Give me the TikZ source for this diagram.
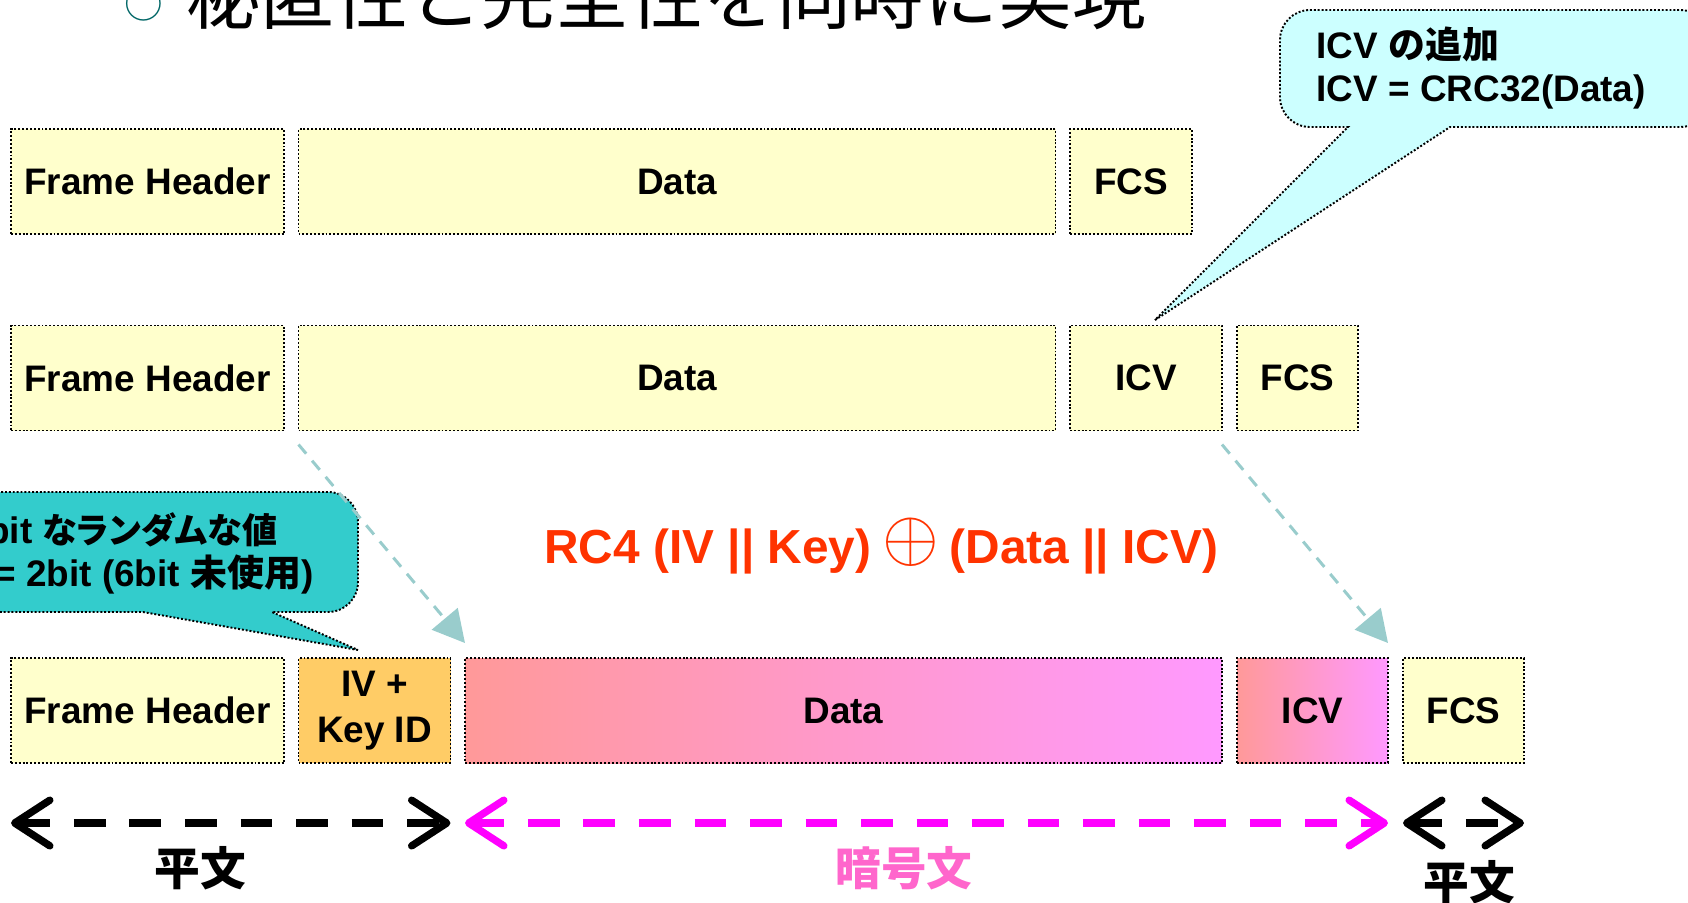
\documentclass[tikz,border=0pt]{standalone}
\usepackage{fontspec}
\setmainfont{Liberation Sans}
\newfontfamily\jpfont{Noto Sans CJK JP}
\newfontfamily\jppfont{Noto Sans CJK JP}[RawFeature=+palt]
\usetikzlibrary{positioning,arrows.meta}

\definecolor{boxyellow}{HTML}{FFFFCC}
\definecolor{ivorange}{HTML}{FFCC66}
\definecolor{encsalmon}{HTML}{FF9999}
\definecolor{encpink}{HTML}{FF99FF}
\definecolor{notecyan}{HTML}{CCFFFF}
\definecolor{noteteal}{HTML}{33CCCC}
\definecolor{hintteal}{HTML}{99CCCC}
\definecolor{rcred}{HTML}{FF3300}
\definecolor{encmagenta}{HTML}{FF00FF}
\definecolor{enclabel}{HTML}{FF66CC}
\definecolor{bulletteal}{HTML}{006666}

\begin{document}
\begin{tikzpicture}[
  field/.style={draw, line width=0.55pt, dash pattern=on 0.55pt off 0.55pt,
    fill=boxyellow, minimum height=1.05cm, inner sep=0pt, outer sep=0pt, align=center,
    font=\bfseries\fontsize{10.5}{13.3}\selectfont},
  secret/.style={field, left color=encsalmon, right color=encpink},
  note/.style={draw, line width=0.55pt, dash pattern=on 0.55pt off 0.55pt},
  notetext/.style={inner sep=0pt, font=\bfseries\fontsize{10.5}{12.5}\selectfont},
  hint/.style={hintteal, line width=0.85pt, dash pattern=on 3.4pt off 2.6pt,
    -{Triangle[length=9pt,width=9.5pt]}},
  span/.style={line width=2.1pt, dash pattern=on 9pt off 6.8pt,
    {Straight Barb[length=10pt,width=13pt,round]}-{Straight Barb[length=10pt,width=13pt,round]}},
  spanlabel/.style={inner sep=0pt, font=\jpfont\bfseries\fontsize{13}{13}\selectfont}
]
\useasboundingbox (0,0) rectangle (16.88,-9.02);
\clip (0,0) rectangle (16.88,-9.02);

% title
\node[anchor=base, inner sep=0pt, text=bulletteal, font=\jpfont\fontsize{11}{11}\selectfont] (bullet) at (1.44,-0.18) {○};
\node[anchor=base west, inner sep=0pt, font=\jpfont\fontsize{21}{21}\selectfont] (title) at (1.86,-0.235) {秘匿性と完全性を同時に実現};

% plain frame
\node[field, minimum width=2.73cm] (fh1) at (1.475,-1.815) {Frame Header};
\node[field, minimum width=7.57cm, right=0.145cm of fh1] (data1) {Data};
\node[field, minimum width=1.22cm, right=0.145cm of data1] (fcs1) {FCS};

% ICV added
\node[field, minimum width=2.73cm] (fh2) at (1.475,-3.78) {Frame Header};
\node[field, minimum width=7.57cm, right=0.145cm of fh2] (data2) {Data};
\node[field, minimum width=1.52cm, right=0.145cm of data2] (icv2) {ICV};
\node[field, minimum width=1.21cm, right=0.15cm of icv2] (fcs2) {FCS};

% WEP frame
\node[field, minimum width=2.73cm] (fh3) at (1.475,-7.105) {Frame Header};
\node[field, fill=ivorange, minimum width=1.52cm, right=0.145cm of fh3] (iv) {IV +\\Key ID};
\node[secret, minimum width=7.57cm, right=0.145cm of iv] (data3) {Data};
\node[secret, minimum width=1.51cm, right=0.15cm of data3] (icv3) {ICV};
\node[field, minimum width=1.21cm, right=0.15cm of icv3] (fcs3) {FCS};

% notes
\filldraw[note, fill=notecyan] (11.55,-3.20) -- (14.50,-1.27)
  {[rounded corners=0.3cm] -- (17.1,-1.27) -- (17.1,-0.10) -- (12.80,-0.10) -- (12.80,-1.27)} -- (13.48,-1.27) -- cycle;
\node[notetext, anchor=west, align=left] (icvnote) at (13.16,-0.68) {ICV {\jpfont の追加}\\ICV = CRC32(Data)};

\filldraw[note, fill=noteteal] (3.58,-6.50) -- (1.43,-6.12)
  {[rounded corners=0.3cm] -- (-0.5,-6.12) -- (-0.5,-4.92) -- (3.58,-4.92) -- (3.58,-6.12)} -- (2.72,-6.12) -- cycle;
\node[notetext, anchor=east] (ivnote1) at (2.78,-5.30) {bit {\jppfont\fontsize{10}{12.5}\selectfont なランダムな値}};
\node[notetext, anchor=east] (ivnote2) at (3.14,-5.74) {= 2bit (6bit {\jpfont 未使用})};

% RC4
\node[anchor=base east, inner sep=0pt, text=rcred, font=\bfseries\fontsize{13.6}{16}\selectfont] (keystream) at (8.72,-5.63) {RC4 (IV || Key)};
\node[inner sep=0pt, text=rcred, font=\fontsize{20.5}{20.5}\selectfont] (xor) at (9.11,-5.42) {$\oplus$};
\node[anchor=base west, inner sep=0pt, text=rcred, font=\bfseries\fontsize{13.6}{16}\selectfont] (payload) at (9.49,-5.63) {(Data || ICV)};

\draw[hint] ([yshift=-0.14cm]data2.south west) -- ([yshift=0.15cm]data3.north west);
\draw[hint] ([yshift=-0.14cm]icv2.south east) -- ([yshift=0.15cm]icv3.north east);

% ranges
\draw[span] ([yshift=-0.6cm]fh3.south west) -- ([yshift=-0.6cm]iv.south east);
\draw[span, encmagenta] ([yshift=-0.6cm]data3.south west) -- ([yshift=-0.6cm]icv3.south east);
\draw[span] ([yshift=-0.6cm]fcs3.south west) -- ([yshift=-0.6cm]fcs3.south east);

\node[spanlabel] (plainl) at (2.00,-8.68) {平文};
\node[spanlabel, text=enclabel] (cipher) at (9.04,-8.68) {暗号文};
\node[spanlabel] (plainr) at (14.69,-8.82) {平文};
\end{tikzpicture}
\end{document}
